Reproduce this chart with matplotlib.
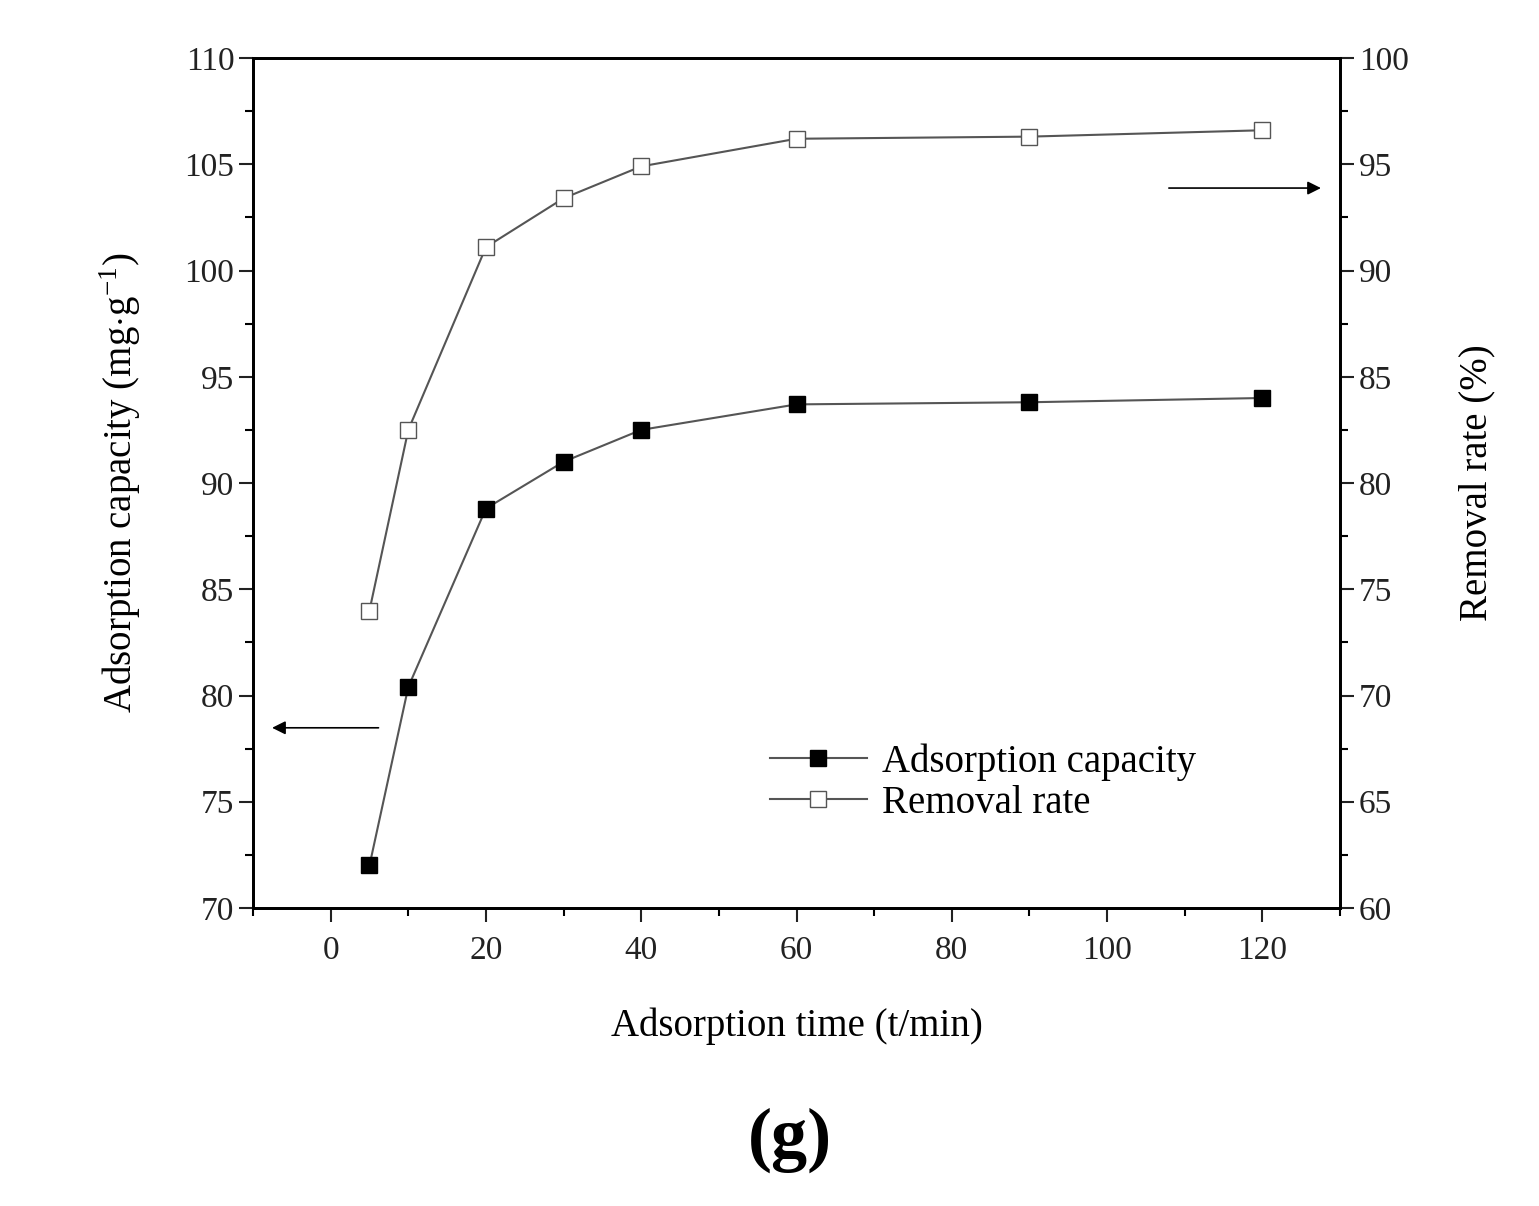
import matplotlib.pyplot as plt
from matplotlib.ticker import MultipleLocator

plt.rcParams['font.family'] = ['Liberation Serif', 'DejaVu Serif']
plt.rcParams['mathtext.fontset'] = 'custom'
plt.rcParams['mathtext.rm'] = 'Liberation Serif'

time_min = [5, 10, 20, 30, 40, 60, 90, 120]
capacity = [72.0, 80.4, 88.8, 91.0, 92.5, 93.7, 93.8, 94.0]
removal = [74.0, 82.5, 91.1, 93.4, 94.9, 96.2, 96.3, 96.6]

fig = plt.figure(figsize=(15.39, 12.06), dpi=100)
ax = fig.add_axes([0.1644, 0.2471, 0.7063, 0.7048])
ax2 = ax.twinx()

l1, = ax.plot(time_min, capacity, '-', color='#555555', lw=1.5, marker='s', ms=11,
              mfc='black', mec='black', label='Adsorption capacity')
l2, = ax2.plot(time_min, removal, '-', color='#555555', lw=1.5, marker='s', ms=11,
               mfc='white', mec='#555555', label='Removal rate')

ax.set_xlim(-10, 130)
ax.set_ylim(70, 110)
ax2.set_ylim(60, 100)
ax.xaxis.set_major_locator(MultipleLocator(20))
ax.xaxis.set_minor_locator(MultipleLocator(10))
ax.yaxis.set_major_locator(MultipleLocator(5))
ax.yaxis.set_minor_locator(MultipleLocator(2.5))
ax2.yaxis.set_major_locator(MultipleLocator(5))
ax2.yaxis.set_minor_locator(MultipleLocator(2.5))

for a in (ax, ax2):
    a.tick_params(which='major', direction='out', length=10, width=1.5, labelsize=24, colors='#222222')
    a.tick_params(which='minor', direction='out', length=6, width=1.5)
    for s in a.spines.values():
        s.set_linewidth(2)
ax.tick_params(axis='x', which='both', top=False, pad=10)

ax.set_xlabel('Adsorption time (t/min)', fontsize=28, labelpad=30)
ax.set_ylabel(r'Adsorption capacity (mg$\cdot$g$^{\mathrm{-1}}$)', fontsize=28, labelpad=30)
ax2.set_ylabel('Removal rate (%)', fontsize=28, labelpad=36)

ax.annotate('', xy=(0.015, 0.212), xytext=(0.118, 0.212), xycoords='axes fraction',
            arrowprops=dict(arrowstyle='-|>', color='black', lw=1.2, mutation_scale=20))
ax.annotate('', xy=(0.985, 0.847), xytext=(0.84, 0.847), xycoords='axes fraction',
            arrowprops=dict(arrowstyle='-|>', color='black', lw=1.2, mutation_scale=20))

ax.legend(handles=[l1, l2], loc='lower right', bbox_to_anchor=(0.9, 0.06),
          frameon=False, fontsize=28, handlelength=2.5, labelspacing=0.1,
          handletextpad=0.4)

fig.text(0.513, 0.04, '(g)', fontsize=52, fontweight='bold', ha='center')

fig.savefig('out.png', dpi=100)
